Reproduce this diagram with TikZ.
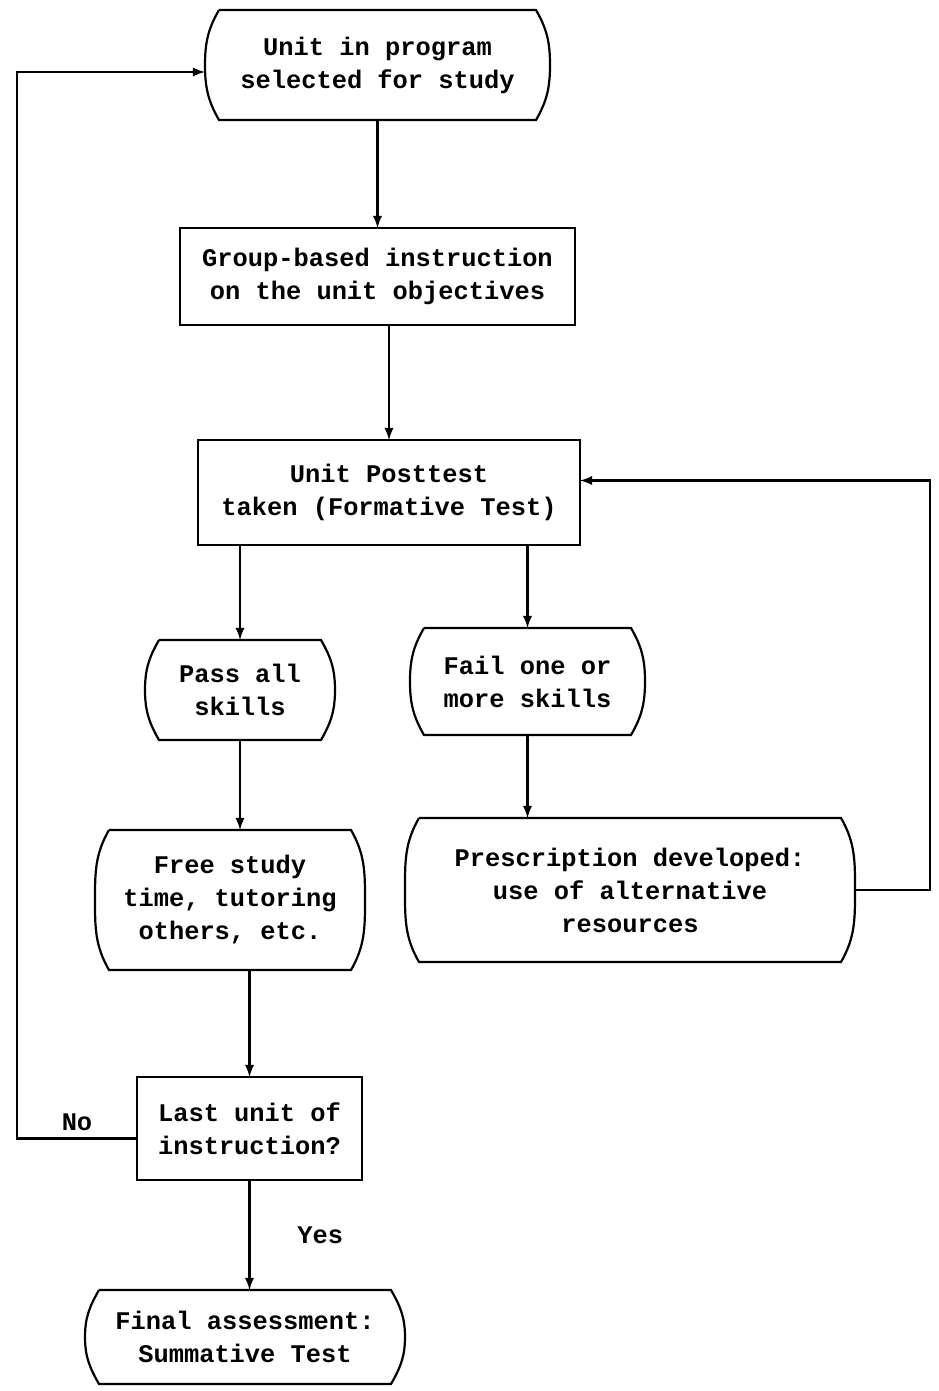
\documentclass[tikz,border=0pt]{standalone}
\usepackage{fontspec}
\setmonofont{Liberation Mono}
\usetikzlibrary{arrows,positioning}

\begin{document}
\begin{tikzpicture}[
        >=latex,
        line width=1.1pt,
        box/.style={rectangle, draw=black, outer sep=0pt, align=center, font=\ttfamily\bfseries\fontsize{12.7}{16.5}\selectfont},
        bulge/.style={rectangle, draw=none, outer sep=0pt, align=center, font=\ttfamily\bfseries\fontsize{12.7}{16.5}\selectfont},
        tag/.style={font=\ttfamily\bfseries\fontsize{12.7}{16.5}\selectfont},
        line/.style={->}
    ]
    \useasboundingbox (0,0) rectangle (469pt,-695.5pt);

    % Entry
    \node[bulge, minimum width=172.5pt, minimum height=55pt] (unit) at (188.75pt,-32.5pt) {Unit in program\\selected for study};
    \node[box, minimum width=197.5pt, minimum height=48.5pt, below=54pt of unit] (group) {Group-based instruction\\on the unit objectives};
    \node[box, minimum width=191pt, minimum height=52.5pt, below=57.5pt of group, xshift=5.75pt] (posttest) {Unit Posttest\\taken (Formative Test)};

    % Branches
    \node[bulge, minimum width=95pt, minimum height=50pt, below=47.5pt of posttest, xshift=-74.5pt] (pass) {Pass all\\skills};
    \node[bulge, minimum width=117.5pt, minimum height=53.5pt, below=41.5pt of posttest, xshift=69.25pt] (fail) {Fail one or\\more skills};
    \node[bulge, minimum width=135pt, minimum height=70pt, below=45pt of pass, xshift=-5pt] (free) {Free study\\time, tutoring\\others, etc.};
    \node[bulge, minimum width=225pt, minimum height=72pt, below=41.5pt of fail, xshift=51.25pt] (prescr) {Prescription developed:\\use of alternative\\resources};

    % Exit
    \node[box, minimum width=112.5pt, minimum height=51.5pt, below=53.5pt of free, xshift=9.75pt] (last) {Last unit of\\instruction?};
    \node[bulge, minimum width=160pt, minimum height=47pt, below=55pt of last, xshift=-2.25pt] (final) {Final assessment:\\Summative Test};

    % Curved sides
    \foreach \n in {unit,pass,fail,free,prescr,final}
        \draw ([xshift=7pt]\n.north west) -- ([xshift=-7pt]\n.north east)
            to[out=-60,in=90] (\n.east) to[out=-90,in=60] ([xshift=-7pt]\n.south east)
            -- ([xshift=7pt]\n.south west)
            to[out=120,in=-90] (\n.west) to[out=90,in=-120] ([xshift=7pt]\n.north west);

    % Connections
    \draw[line] (unit) -- (group);
    \draw[line] (group.south -| posttest.north) -- (posttest.north);
    \draw[line] (pass.north |- posttest.south) -- (pass.north);
    \draw[line] (fail.north |- posttest.south) -- (fail.north);
    \draw[line] (pass.south) -- (pass.south |- free.north);
    \draw[line] (fail.south) -- (fail.south |- prescr.north);
    \draw[line] (last.north |- free.south) -- (last.north);
    \draw[line] (last.south) -- node[tag, right=20pt] {Yes} (last.south |- final.north);

    \draw[line] (prescr.east) -- ++(37.5pt,0) |- ([yshift=6pt]posttest.east);
    \draw[line] ([yshift=-5pt]last.west) -- node[tag, above] {No} ++(-60pt,0) |- ([yshift=-3.5pt]unit.west);

\end{tikzpicture}
\end{document}
